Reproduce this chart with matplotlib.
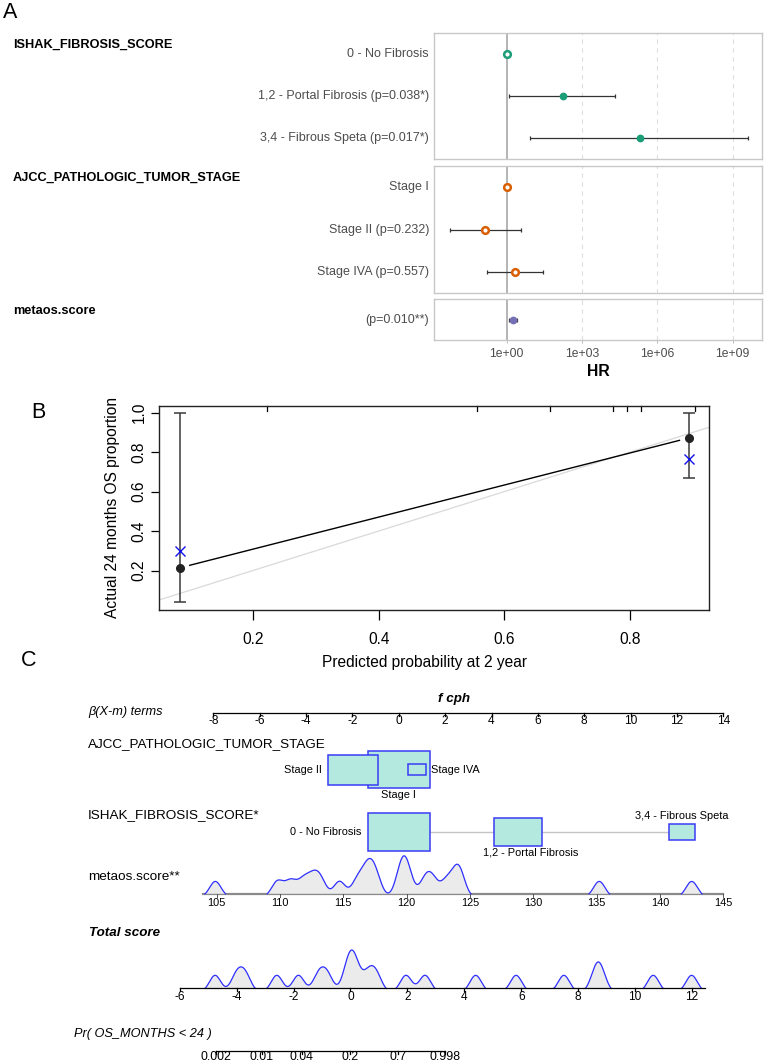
import numpy as np
import matplotlib
matplotlib.use('Agg')
import matplotlib.pyplot as plt
from matplotlib.transforms import blended_transform_factory as blend
from matplotlib.patches import Rectangle
from matplotlib.ticker import NullLocator

plt.rcParams['font.family'] = ['Liberation Sans', 'DejaVu Sans']

# ======================= DATA =======================
# Panel A: Cox model, log hazard ratios (natural log) with 95% CI
fib_labels = ['0 - No Fibrosis', '1,2 - Portal Fibrosis (p=0.038*)', '3,4 - Fibrous Speta (p=0.017*)']
fib_p = [np.nan, 0.038, 0.017]
fib_beta = [0.0, 5.14, 12.22]
fib_lo = [np.nan, 0.23, 2.14]
fib_hi = [np.nan, 9.97, 22.13]

stage_labels = ['Stage I', 'Stage II (p=0.232)', 'Stage IVA (p=0.557)']
stage_p = [np.nan, 0.232, 0.557]
stage_beta = [0.0, -1.97, 0.77]
stage_lo = [np.nan, -5.18, -1.84]
stage_hi = [np.nan, 1.31, 3.36]

metaos_labels = ['(p=0.010**)']
metaos_p = [0.010]
metaos_beta = [0.5466]
metaos_lo = [0.19]
metaos_hi = [0.95]

group_names = ['ISHAK_FIBROSIS_SCORE', 'AJCC_PATHOLOGIC_TUMOR_STAGE', 'metaos.score']

# Panel B: calibration at 24 months
cal_pred = [0.084, 0.894]
cal_obs = [0.214, 0.872]
cal_lo = [0.043, 0.671]
cal_hi = [1.0, 1.0]
cal_corrected = [0.30, 0.764]
cal_rug = [0.223, 0.557, 0.672, 0.772, 0.795, 0.817, 0.904]
cal_xticks = [0.2, 0.4, 0.6, 0.8]
cal_yticks = [0.2, 0.4, 0.6, 0.8, 1.0]

# Panel C: nomogram
stage_names = ['Stage I', 'Stage II', 'Stage IVA']
stage_n = [12, 8, 1]
fib_names = ['0 - No Fibrosis', '1,2 - Portal Fibrosis', '3,4 - Fibrous Speta']
fib_n = [12, 7, 2]
metaos_mean = 119.38
metaos_scores = [104.9, 109.8, 110.85, 111.85, 112.6, 113.2, 114.7,
                 116.1, 116.8, 117.15, 117.6, 119.5, 119.8, 120.1,
                 121.45, 122.05, 123.15, 123.95, 124.2, 135.2, 142.5]
metaos_ticks = [105, 110, 115, 120, 125, 130, 135, 140, 145]
total_scores = [-4.76, -4.0, -3.7, -2.59, -1.83, -1.12, -0.82,
                -0.11, 0.04, 0.19, 0.62, 0.9, 1.95, 2.62, 4.40, 5.82,
                7.5, 8.62, 8.80, 10.64, 11.99]
total_ticks = [-6, -4, -2, 0, 2, 4, 6, 8, 10, 12]
beta_ticks = list(range(-8, 15, 2))
pr_ticks = [0.002, 0.01, 0.04, 0.2, 0.7, 0.998]
pr_tick_labels = ['0.002', '0.01', '0.04', '0.2', '0.7', '0.998']
base_cumhaz_24 = 0.226

# ======================= FIGURE =======================
W, H = 765, 1064
fig = plt.figure(figsize=(W / 100, H / 100), dpi=100)


def ax_px(x0, y0, x1, y1):
    return fig.add_axes([x0 / W, 1 - y1 / H, (x1 - x0) / W, (y1 - y0) / H])


def ftext(x, y, s, **kw):
    return fig.text(x / W, 1 - y / H, s, **kw)


# ---------------- Panel A ----------------
ftext(3, 13, 'A', fontsize=15.5, ha='left', va='center')
colA = ['#1b9e77', '#d95f02', '#7570b3']
blocks = [(fib_labels, fib_beta, fib_lo, fib_hi, fib_p),
          (stage_labels, stage_beta, stage_lo, stage_hi, stage_p),
          (metaos_labels, metaos_beta, metaos_lo, metaos_hi, metaos_p)]
boxes = [(33, 159), (166, 293), (299, 340)]
for k, ((labs, b, lo, hi, pv), (y0, y1)) in enumerate(zip(blocks, boxes)):
    ax = ax_px(434.3, y0, 762.3, y1)
    n = len(labs)
    ax.set_xscale('log')
    ax.set_xlim(10 ** -2.88, 10 ** 10.18)
    ax.set_ylim(n + 0.5, 0.5)
    for v in [1e3, 1e6, 1e9]:
        ax.axvline(v, color='#dedede', lw=0.8, ls=(0, (4, 4)), zorder=0)
    ax.axvline(1, color='#a8a8a8', lw=1.2, zorder=1)
    hr = np.exp(b)
    for i in range(n):
        y = i + 1
        if not np.isnan(lo[i]):
            l, u = np.exp(lo[i]), np.exp(hi[i])
            ax.errorbar([hr[i]], [y], xerr=[[hr[i] - l], [u - hr[i]]], fmt='none',
                        ecolor='#333333', elinewidth=0.9, capsize=1.5, capthick=0.9, zorder=2)
        filled = (not np.isnan(pv[i])) and pv[i] < 0.05
        if filled:
            ax.plot(hr[i], y, 'o', ms=5.6, color=colA[k], mew=0, zorder=3)
        else:
            ax.plot(hr[i], y, 'o', ms=4.8, mfc='white', mec=colA[k], mew=1.8, zorder=3)
        ax.text(-0.016, y, labs[i], transform=blend(ax.transAxes, ax.transData),
                ha='right', va='center', fontsize=9, color='#4d4d4d')
    ax.set_yticks([])
    ax.xaxis.set_minor_locator(NullLocator())
    for s in ax.spines.values():
        s.set_color('#c8c8c8')
        s.set_linewidth(1.0)
    if k == 2:
        tv = [1, 1e3, 1e6, 1e9]
        ax.set_xticks(tv)
        ax.set_xticklabels(['{:.0e}'.format(v) for v in tv])
        ax.tick_params(axis='x', length=2.5, width=0.6, color='#b0b0b0', labelsize=8.7,
                       labelcolor='#4d4d4d', pad=3.5)
    else:
        ax.tick_params(axis='x', bottom=False, labelbottom=False)
    ftext(13, y0 + 12, group_names[k], fontsize=9.2, fontweight='bold', ha='left', va='center')
ftext(598, 372, 'HR', fontsize=11.3, fontweight='bold', ha='center', va='center')

# ---------------- Panel B ----------------
ftext(31, 412, 'B', fontsize=15.5, ha='left', va='center')
axB = ax_px(159.3, 405.7, 709.3, 610)
axB.set_xlim(0.051, 0.926)
axB.set_ylim(0.0, 1.035)
axB.axline((0, 0), (1, 1), color='#d9d9d9', lw=0.9, zorder=1)
axB.errorbar(cal_pred, cal_obs,
             yerr=[np.array(cal_obs) - np.array(cal_lo), np.array(cal_hi) - np.array(cal_obs)],
             fmt='none', ecolor='#3a3a3a', elinewidth=1.1, capsize=4.5, capthick=1.1, zorder=2)
axB.plot(cal_pred, cal_obs, 'o', color='#222222', ms=5.5, zorder=3)
axB.plot(cal_pred, cal_corrected, 'x', color='#1010ee', ms=6.5, mew=1.0, zorder=3)
fig.canvas.draw()
p1 = axB.transData.transform((cal_pred[0], cal_obs[0]))
p2 = axB.transData.transform((cal_pred[1], cal_obs[1]))
d = (p2 - p1) / np.linalg.norm(p2 - p1)
q1 = axB.transData.inverted().transform(p1 + d * 10)
q2 = axB.transData.inverted().transform(p2 - d * 10)
axB.plot([q1[0], q2[0]], [q1[1], q2[1]], color='black', lw=1.0, zorder=2)
for v in cal_rug:
    axB.plot([v, v], [1, 1 - 5 / 204.3], transform=blend(axB.transData, axB.transAxes),
             color='black', lw=0.9, clip_on=False)
axB.set_xticks(cal_xticks)
axB.set_xticklabels(['%.1f' % v for v in cal_xticks])
axB.set_yticks(cal_yticks)
axB.set_yticklabels(['%.1f' % v for v in cal_yticks], rotation=90, va='center')
axB.tick_params(axis='x', direction='out', length=7, width=0.9, labelsize=11.2, pad=9)
axB.tick_params(axis='y', direction='out', length=5.5, width=0.9, labelsize=11.2, pad=3.5)
for s in axB.spines.values():
    s.set_linewidth(1.0)
    s.set_color('#222222')
ftext(112.5, 507.5, 'Actual 24 months OS proportion', rotation=90, fontsize=11.2,
      ha='center', va='center')
ftext(424.5, 662, 'Predicted probability at 2 year', fontsize=11.2, ha='center', va='center')

# ---------------- Panel C ----------------
ftext(21, 660, 'C', fontsize=15.5, ha='left', va='center')
b0, bs = 398.8, 23.18      # beta axis: pixel of 0 and pixels per unit
t0, ts = 350.5, 28.45      # total score axis
axC = fig.add_axes([0, 0, 1, (H - 680) / H])
axC.set_xlim((0 - b0) / bs, (W - b0) / bs)
axC.set_ylim(H, 680)
axC.axis('off')
axT = fig.add_axes([0, 0, 1, (H - 680) / H])
axT.set_xlim((0 - t0) / ts, (W - t0) / ts)
axT.set_ylim(H, 680)
axT.axis('off')
axT.patch.set_alpha(0)

box_fc = '#b3e9df'
box_ec = '#3c3cf5'
dens_c = '#2f2fff'

# beta axis
yb = 713.3
axC.plot([beta_ticks[0], beta_ticks[-1]], [yb, yb], color='black', lw=0.9)
for v in beta_ticks:
    axC.plot([v, v], [yb, yb + 3], color='black', lw=0.9)
    axC.text(v, 721.5, str(v), ha='center', va='center', fontsize=8.6)
ftext(454, 699, 'f cph', fontsize=9.6, fontweight='bold', style='italic', ha='center', va='center')
ftext(88, 712, 'β(X-m) terms', fontsize=9.2, style='italic', ha='left', va='center')

kw_w = 0.771   # beta width per sqrt(n)
kh = 10.77     # pixel height per sqrt(n)


def cat_row(betas, counts, names, yc, placements, offsets):
    axC.plot([min(betas), max(betas)], [yc, yc], color='#c4c4c4', lw=1.0, zorder=1)
    order = np.argsort(counts)[::-1]
    for rank, i in enumerate(order):
        w = kw_w * np.sqrt(counts[i])
        h = kh * np.sqrt(counts[i])
        axC.add_patch(Rectangle((betas[i] - w / 2, yc - h / 2), w, h, facecolor=box_fc,
                                edgecolor=box_ec, lw=1.1, zorder=2 + rank))
    for i in range(len(names)):
        w = kw_w * np.sqrt(counts[i])
        h = kh * np.sqrt(counts[i])
        pl = placements[i]
        dx = offsets[i] / bs
        if pl == 'left':
            axC.text(betas[i] - w / 2 - 6 / bs, yc, names[i], ha='right', va='center', fontsize=7.9)
        elif pl == 'right':
            axC.text(betas[i] + w / 2 + 5 / bs, yc, names[i], ha='left', va='center', fontsize=7.9)
        elif pl == 'below':
            axC.text(betas[i] + dx, yc + h / 2 + 6.5, names[i], ha='center', va='center', fontsize=7.9)
        else:
            axC.text(betas[i] + dx, yc - h / 2 - 8.5, names[i], ha='center', va='center', fontsize=7.9)


ftext(88, 744, 'AJCC_PATHOLOGIC_TUMOR_STAGE', fontsize=9.7, ha='left', va='center')
cat_row(stage_beta, stage_n, stage_names, 769.8, ['below', 'left', 'right'], [0, 0, 0])
ftext(88, 815, 'ISHAK_FIBROSIS_SCORE*', fontsize=9.7, ha='left', va='center')
cat_row(fib_beta, fib_n, fib_names, 832, ['left', 'below', 'above'], [0, 13, 0])


def kde(samples, grid, bw):
    s = np.asarray(samples, dtype=float)
    return np.exp(-0.5 * ((grid[:, None] - s[None, :]) / bw) ** 2).sum(axis=1)


def draw_density(ax, xg, dens, base, hmax, cut=0.22):
    disp = np.clip(dens - cut, 0, None)
    yv = base - disp / disp.max() * hmax
    m = disp > 0
    m2 = m | np.roll(m, 1) | np.roll(m, -1)
    ax.fill_between(xg, base, yv, where=m2, color='#ebebeb', lw=0, zorder=2)
    ax.plot(xg, np.where(m2, yv, np.nan), color=dens_c, lw=0.9, zorder=3)


# metaos.score
ftext(88, 877.3, 'metaos.score**', fontsize=9.7, ha='left', va='center')
ym = 894.3
coef = metaos_beta[0]
mg = np.linspace(103.9, 145, 2000)
axC.plot(coef * (np.array([103.9, 145]) - metaos_mean), [ym, ym], color='#8a8a8a', lw=1.6, zorder=1)
draw_density(axC, coef * (mg - metaos_mean), kde(metaos_scores, mg, 0.46), ym - 0.5, 38.0)
for v in metaos_ticks:
    xv = coef * (v - metaos_mean)
    axC.plot([xv, xv], [ym, ym + 2.5], color='#555555', lw=0.7, zorder=1)
    axC.text(xv, 902.5, str(v), ha='center', va='center', fontsize=7.9)

# Total score
ftext(89, 933, 'Total score', fontsize=9.6, fontweight='bold', style='italic', ha='left', va='center')
yt = 988.3
tg = np.linspace(-6, 12.45, 2000)
draw_density(axT, tg, kde(total_scores, tg, 0.20), yt, 38.3)
axT.plot([-6, 12.45], [yt, yt], color='black', lw=0.9, zorder=4)
for v in total_ticks:
    axT.plot([v, v], [yt, yt + 3], color='black', lw=0.9)
    axT.text(v, 996.7, str(v), ha='center', va='center', fontsize=8.6)

# Probability axis
ftext(74, 1034, 'Pr( OS_MONTHS < 24 )', fontsize=9.2, style='italic', ha='left', va='center')
yp = 1050.7
pr_pos = np.log(-np.log(1 - np.array(pr_ticks)) / base_cumhaz_24)
axT.plot([pr_pos[0], pr_pos[-1]], [yp, yp], color='black', lw=0.9)
for v, lab in zip(pr_pos, pr_tick_labels):
    axT.plot([v, v], [yp, yp + 3], color='black', lw=0.9)
    axT.text(v, 1057.5, lab, ha='center', va='center', fontsize=8.9)

fig.savefig('out.png', dpi=100)
